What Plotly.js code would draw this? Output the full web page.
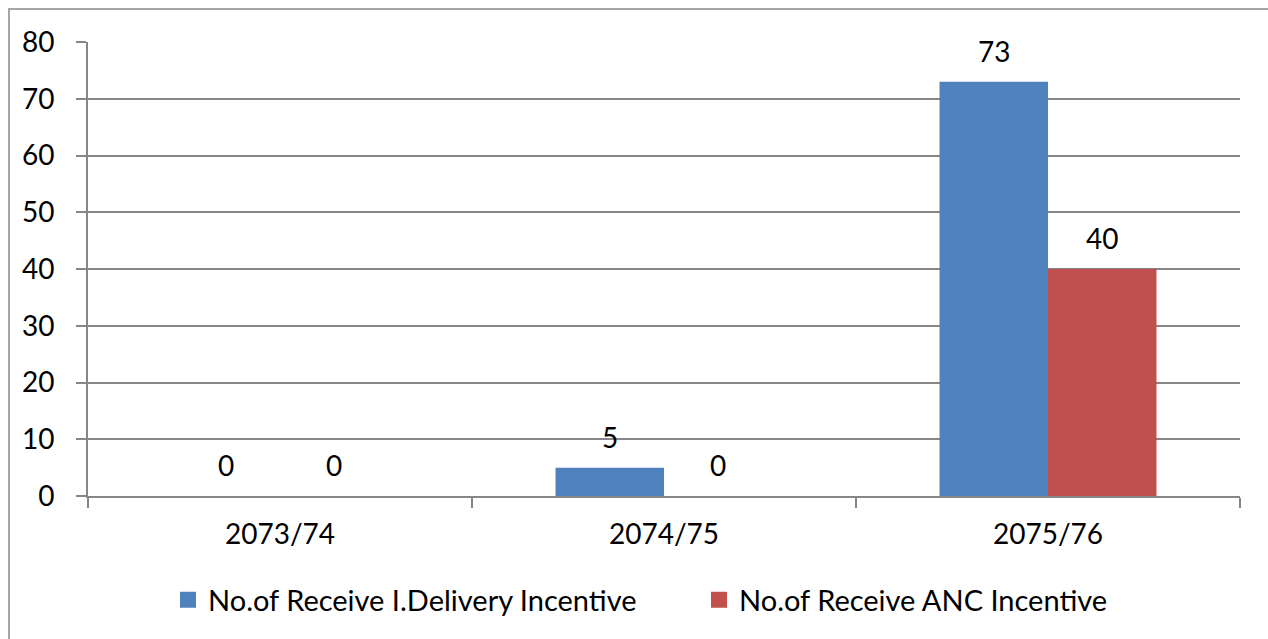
<!DOCTYPE html>
<html>
<head>
<meta charset="utf-8">
<script src="https://cdn.plot.ly/plotly-3.0.1.min.js"></script>
<style>
  html, body { margin: 0; padding: 0; background: #fff; }
  #wrap { position: relative; width: 1268px; height: 639px; overflow: hidden; }
  #chart { position: absolute; left: 0; top: 0; width: 1268px; height: 639px; }
  #frame { position: absolute; left: 8px; top: 8px; width: 1400px; height: 800px;
           border-left: 2px solid #a6a6a6; border-top: 2px solid #a6a6a6; pointer-events: none; }
</style>
</head>
<body>
<div id="wrap">
  <div id="chart"></div>
  <div id="frame"></div>
</div>
<script>
const categories = ["2073/74", "2074/75", "2075/76"];
const deliveryIncentive = [0, 5, 73];
const ancIncentive = [0, 0, 40];
const seriesNames = ["No.of Receive I.Delivery Incentive", "No.of Receive ANC Incentive"];
const seriesColors = ["#4F81BD", "#C0504D"];
const yTicks = [0, 10, 20, 30, 40, 50, 60, 70, 80];

const FONT = "Lato, 'Open Sans', sans-serif";
const FS = 28;
const LFS = 29;
const GRID = "#868686";

const seriesValues = [deliveryIncentive, ancIncentive];
const legendIds = ["legend", "legend2"];

const traces = [];
seriesValues.forEach((vals, s) => {
  traces.push({ type: "bar", name: seriesNames[s], x: categories, y: vals,
    marker: { color: seriesColors[s] }, hoverinfo: "skip", showlegend: false });
});
// legend entries (square swatches)
seriesValues.forEach((vals, s) => {
  traces.push({ type: "scatter", mode: "markers", name: seriesNames[s],
    x: [null], y: [null], legend: legendIds[s],
    marker: { symbol: "square", size: 17, color: seriesColors[s] },
    hoverinfo: "skip", showlegend: true });
});

const BARPX = 108.5;
const annotations = [];
seriesValues.forEach((vals, s) => {
  vals.forEach((v, i) => {
    annotations.push({
      x: categories[i], y: v, xref: "x", yref: "y",
      text: String(v), showarrow: false,
      xshift: (s === 0 ? -1 : 1) * BARPX / 2, yshift: 31,
      font: { family: FONT, size: FS, color: "#000" }
    });
  });
});

const legendBase = {
  orientation: "h", xanchor: "left", y: -0.229, yanchor: "middle",
  font: { family: FONT, size: LFS, color: "#000" },
  itemsizing: "trace", bgcolor: "rgba(0,0,0,0)"
};

const layout = {
  width: 1268, height: 639,
  margin: { l: 88, r: 28, t: 42, b: 143 },
  paper_bgcolor: "#fff", plot_bgcolor: "#fff",
  barmode: "group", bargap: 0.435, bargroupgap: 0,
  font: { family: FONT, size: FS, color: "#000" },
  showlegend: true,
  legend: Object.assign({}, legendBase, { x: (168 - 88) / 1152 }),
  legend2: Object.assign({}, legendBase, { x: (699 - 88) / 1152 }),
  xaxis: {
    type: "category", tickson: "boundaries",
    ticks: "outside", ticklen: 10, tickcolor: GRID, tickwidth: 2,
    showline: true, linecolor: GRID, linewidth: 2,
    showgrid: false, zeroline: false,
    tickfont: { family: FONT, size: FS, color: "#000" },
    ticklabelstandoff: 12, fixedrange: true
  },
  yaxis: {
    range: [0, 80], tickvals: yTicks, ticktext: yTicks.map(String),
    ticks: "outside", ticklen: 10, tickcolor: GRID, tickwidth: 2,
    showline: true, linecolor: GRID, linewidth: 2,
    showgrid: true, gridcolor: GRID, gridwidth: 2, zeroline: false,
    tickfont: { family: FONT, size: FS, color: "#000" },
    ticklabelstandoff: 16, fixedrange: true
  },
  annotations: annotations
};

Plotly.newPlot("chart", traces, layout, { displayModeBar: false, staticPlot: true });
</script>
</body>
</html>
